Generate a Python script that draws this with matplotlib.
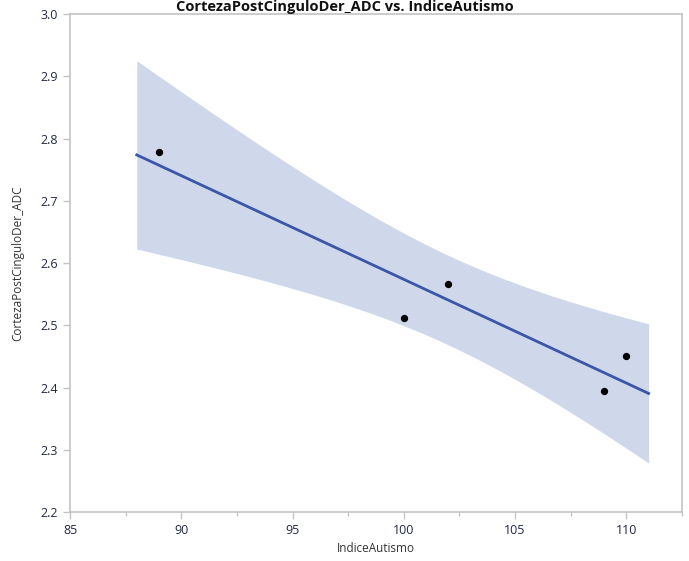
import numpy as np
import matplotlib
matplotlib.use("Agg")
import matplotlib.pyplot as plt
from matplotlib.ticker import MultipleLocator

# Data
indice_autismo = [89, 100, 102, 109, 110]
corteza_adc = [2.778, 2.512, 2.566, 2.395, 2.451]
x_ticks = [85, 90, 95, 100, 105, 110]
y_ticks = [2.2, 2.3, 2.4, 2.5, 2.6, 2.7, 2.8, 2.9, 3.0]
fit_range = [88, 111]

plt.rcParams['font.family'] = ['Open Sans', 'DejaVu Sans']

x = np.array(indice_autismo, dtype=float)
y = np.array(corteza_adc, dtype=float)
n = len(x)
xm, ym = x.mean(), y.mean()
sxx = ((x - xm) ** 2).sum()
slope = ((x - xm) * (y - ym)).sum() / sxx
intercept = ym - slope * xm
resid = y - (intercept + slope * x)
s = np.sqrt((resid ** 2).sum() / (n - 2))
t_crit = 3.182446  # t(0.975, df=3)

xs = np.linspace(fit_range[0], fit_range[1], 200)
yhat = intercept + slope * xs
half = t_crit * s * np.sqrt(1 / n + (xs - xm) ** 2 / sxx)

W, H = 689, 561
fig = plt.figure(figsize=(W / 100, H / 100), dpi=100)
ax = fig.add_axes([70 / W, (H - 512) / H, 612 / W, 498 / H])

ax.fill_between(xs, yhat - half, yhat + half, color='#cfd8ea', linewidth=0, zorder=1)
ax.plot(xs, yhat, color='#3b56a8', linewidth=2, zorder=2)
ax.scatter(x, y, s=18, color='black', zorder=3)

ax.set_xlim(85, 112.5)
ax.set_ylim(2.2, 3.0)
ax.set_xticks(x_ticks)
ax.set_yticks(y_ticks)
ax.set_yticklabels([f"{v:.1f}" for v in y_ticks])
ax.xaxis.set_minor_locator(MultipleLocator(2.5))

for sp in ax.spines.values():
    sp.set_color('#c4c4c4')
    sp.set_linewidth(1.2)
ax.tick_params(axis='both', which='major', colors='#c4c4c4', labelcolor='#222a44',
               labelsize=9, length=5, width=1)
ax.tick_params(axis='x', which='minor', colors='#c4c4c4', length=3, width=1)

ax.set_xlabel('IndiceAutismo', fontsize=8.5, color='#333333', labelpad=4)
ax.set_ylabel('CortezaPostCinguloDer_ADC', fontsize=8.5, color='#333333', labelpad=12)

fig.text(345 / W, 1.0, 'CortezaPostCinguloDer_ADC vs. IndiceAutismo',
         ha='center', va='top', fontsize=10.5, fontweight='bold', color='#111111')

fig.savefig('out.png', dpi=100)
